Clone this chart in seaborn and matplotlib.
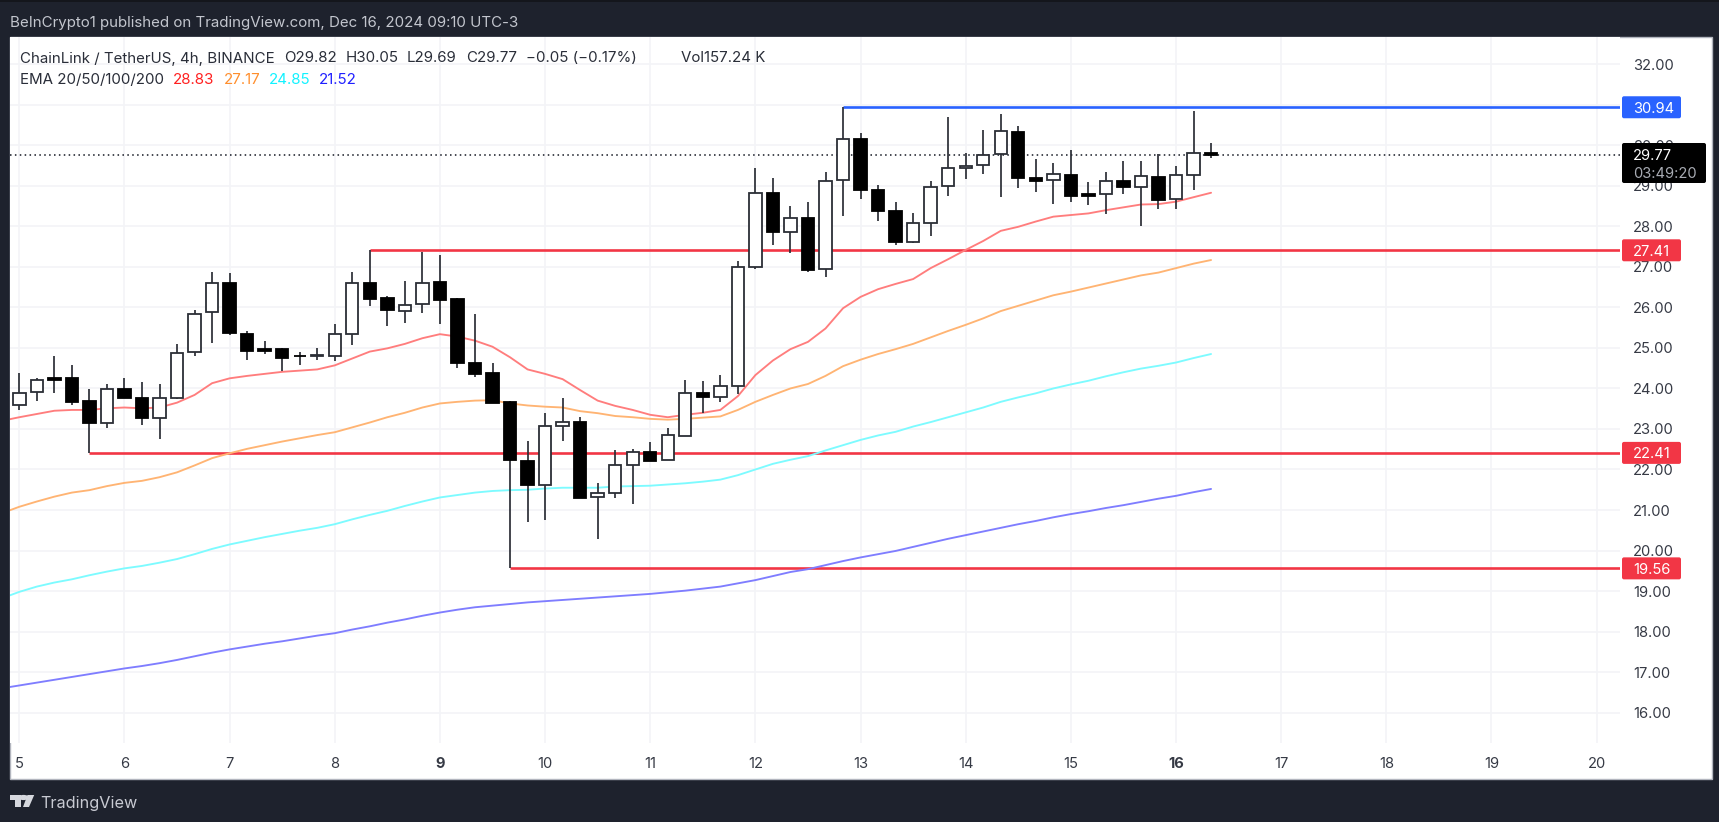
import numpy as np
import pandas as pd
import matplotlib
matplotlib.use("Agg")
import matplotlib.pyplot as plt
from matplotlib.patches import Rectangle, FancyBboxPatch, Polygon, Circle
from matplotlib.transforms import IdentityTransform
import seaborn as sns

# 4h candles, first at day 5
opens = [23.58,23.92,24.25,24.25,23.68,23.14,23.99,23.76,23.27,23.76,
         24.90,25.88,26.60,25.35,24.97,24.98,24.81,24.81,24.79,25.34,
         26.61,26.23,25.92,26.08,26.63,26.20,24.62,24.37,23.67,22.22,
         21.61,23.07,23.18,21.32,21.41,22.10,22.42,22.24,22.83,23.90,
         23.80,24.06,27.00,28.82,27.85,28.20,26.95,29.14,30.15,28.89,
         28.37,27.61,28.09,28.99,29.44,29.51,29.78,30.34,29.19,29.14,
         29.28,28.80,28.79,29.13,28.98,29.23,28.67,29.28,29.82]
highs = [24.37,24.25,24.81,24.59,23.98,24.10,24.25,24.15,24.11,25.10,
         25.94,26.88,26.84,25.42,25.16,24.99,24.91,25.01,25.58,26.87,
         27.42,26.27,26.64,27.36,27.29,26.24,25.85,24.64,23.70,22.71,
         23.40,23.77,23.29,21.66,22.47,22.50,22.67,23.02,24.22,24.19,
         24.32,27.15,29.45,29.20,28.50,28.59,29.35,30.95,30.31,29.02,
         28.59,28.32,29.11,30.69,29.82,30.38,30.77,30.48,29.66,29.56,
         29.89,29.10,29.33,29.61,29.62,29.79,29.50,30.85,30.05]
lows = [23.47,23.70,23.90,23.58,22.41,23.03,23.76,23.11,22.76,23.73,
        24.80,25.13,25.31,24.70,24.84,24.42,24.59,24.70,24.68,25.07,
        26.03,25.53,25.62,25.87,25.58,24.50,24.29,23.63,19.56,20.70,
        20.75,22.71,21.30,20.28,21.29,21.14,22.22,22.24,22.83,23.39,
        23.67,23.87,26.96,27.55,27.34,26.88,26.74,28.26,28.67,28.13,
        27.53,27.58,27.76,28.76,29.18,29.30,28.72,28.94,28.84,28.56,
        28.59,28.54,28.30,28.80,28.02,28.42,28.44,28.91,29.69]
closes = [23.90,24.21,24.21,23.67,23.14,23.99,23.76,23.28,23.76,24.88,
          25.85,26.60,25.36,24.92,24.92,24.76,24.79,24.83,25.34,26.61,
          26.22,25.94,26.07,26.61,26.18,24.62,24.36,23.65,22.23,21.61,
          23.07,23.18,21.30,21.42,22.11,22.42,22.22,22.84,23.90,23.80,
          24.06,27.00,28.82,27.85,28.20,26.92,29.13,30.15,28.89,28.37,
          27.61,28.08,28.98,29.43,29.50,29.77,30.35,29.19,29.12,29.29,
          28.75,28.76,29.12,28.98,29.24,28.66,29.26,29.81,29.77]

# EMA values, one candle earlier than the first candle through the last candle
ema20 = [23.20,
         23.29,23.37,23.45,23.47,23.47,23.51,23.53,23.51,23.53,23.65,
         23.84,24.13,24.25,24.31,24.36,24.41,24.44,24.47,24.57,24.74,
         24.91,24.99,25.10,25.24,25.34,25.28,25.18,25.03,24.77,24.47,
         24.36,24.23,23.96,23.70,23.57,23.47,23.35,23.29,23.35,23.40,
         23.47,23.81,24.33,24.69,24.97,25.15,25.48,25.98,26.26,26.45,
         26.58,26.70,26.97,27.19,27.42,27.64,27.89,27.99,28.12,28.24,
         28.28,28.32,28.40,28.47,28.54,28.55,28.61,28.72,28.83]
ema50 = [20.92,
         21.08,21.21,21.33,21.43,21.49,21.59,21.67,21.72,21.81,21.93,
         22.10,22.28,22.40,22.51,22.60,22.69,22.77,22.85,22.92,23.04,
         23.16,23.29,23.40,23.53,23.63,23.67,23.70,23.71,23.63,23.58,
         23.55,23.53,23.44,23.39,23.32,23.29,23.25,23.23,23.25,23.28,
         23.31,23.47,23.67,23.84,24.00,24.11,24.31,24.55,24.71,24.85,
         24.97,25.10,25.26,25.42,25.57,25.73,25.91,26.04,26.17,26.30,
         26.39,26.49,26.59,26.69,26.79,26.86,26.97,27.08,27.17]
ema100 = [18.82,
          18.98,19.11,19.21,19.29,19.39,19.48,19.56,19.62,19.70,19.79,
          19.91,20.04,20.15,20.24,20.33,20.41,20.49,20.56,20.65,20.77,
          20.88,20.98,21.10,21.21,21.31,21.37,21.43,21.47,21.49,21.50,
          21.53,21.55,21.55,21.55,21.58,21.59,21.60,21.63,21.66,21.70,
          21.75,21.86,22.00,22.14,22.24,22.33,22.47,22.60,22.73,22.84,
          22.93,23.06,23.17,23.29,23.41,23.53,23.67,23.78,23.88,24.00,
          24.10,24.19,24.30,24.40,24.49,24.56,24.64,24.75,24.85]
ema200 = [16.60,
          16.67,16.74,16.81,16.88,16.95,17.02,17.09,17.15,17.22,17.30,
          17.39,17.48,17.56,17.63,17.70,17.76,17.83,17.90,17.96,18.05,
          18.13,18.22,18.30,18.39,18.47,18.54,18.60,18.64,18.68,18.72,
          18.75,18.78,18.81,18.84,18.87,18.90,18.93,18.97,19.01,19.06,
          19.11,19.19,19.27,19.37,19.47,19.54,19.64,19.74,19.83,19.91,
          19.99,20.09,20.19,20.29,20.38,20.47,20.56,20.65,20.73,20.82,
          20.90,20.97,21.05,21.12,21.20,21.28,21.35,21.44,21.52]

level_values = [30.94, 27.41, 22.41, 19.56]
level_starts = [47, 20, 4, 28]          # candle where each level line begins
level_colors = ["#2962ff", "#f23645", "#f23645", "#f23645"]
last_price = 29.77
countdown = "03:49:20"
day_ticks = list(range(5, 21))
price_ticks = list(range(16, 33))

W, H = 1719, 822
DARK = "#1e222d"
INK = "#131722"

sns.set_theme(style="white")
plt.rcParams["font.family"] = ["Inter", "DejaVu Sans"]

fig = plt.figure(figsize=(W / 100, H / 100), dpi=100, facecolor=DARK)

def fx(p): return p / W
def fy(p): return 1 - p / H

# white panel, darker strip on top
fig.add_artist(Rectangle((fx(10), fy(779)), fx(1702), 742 / H, transform=fig.transFigure,
                         facecolor="white", edgecolor="#b2b5be", lw=1, zorder=-5))
fig.add_artist(Rectangle((0, fy(2)), 1, 2 / H, transform=fig.transFigure,
                         facecolor="#14161c", edgecolor="none", zorder=-5))

ax = fig.add_axes([fx(10), fy(743), fx(1610), 706 / H])
ax.set_facecolor("white")
ax.set_xlim(4.9116, 20.222)
ax.set_ylim(15.25, 32.674)
for s in ax.spines.values():
    s.set_visible(False)

ax.set_xticks(day_ticks)
ax.set_yticks(price_ticks)
ax.set_yticklabels([f"{v:.2f}" for v in price_ticks])
ax.yaxis.tick_right()
ax.tick_params(axis="both", length=0, labelcolor="#363a45", labelsize=10.6)
ax.tick_params(axis="y", pad=9.4)
ax.tick_params(axis="x", pad=10)
for lab, d in zip(ax.get_xticklabels(), day_ticks):
    if d in (9, 16):
        lab.set_fontweight("bold")
ax.grid(True, color="#f3f4f7", lw=1.2)
ax.set_axisbelow(True)

n = len(closes)
days = 5 + np.arange(n) / 6
days_ext = 5 + np.arange(-1, n) / 6

# EMA lines
ema_df = pd.DataFrame({"day": days_ext, "EMA20": ema20, "EMA50": ema50,
                       "EMA100": ema100, "EMA200": ema200})
long_df = ema_df.melt(id_vars="day", var_name="ema", value_name="price")
sns.lineplot(data=long_df, x="day", y="price", hue="ema", estimator=None, legend=False, ax=ax,
             palette={"EMA20": "#ff7d7d", "EMA50": "#ffb473", "EMA100": "#7dfbff", "EMA200": "#7f7dff"},
             lw=1.35, zorder=2)
ax.set_xlabel("")
ax.set_ylabel("")

# level lines and dotted last price
ax.hlines(last_price, 4.9116, 20.222, color=INK, lw=1.1, linestyles=(0, (1, 2.2)), zorder=1.5)
for v, st, c in zip(level_values, level_starts, level_colors):
    ax.hlines(v, days[st], 20.222, color=c, lw=1.9, zorder=1.8)

# candles
o, h, l, c = map(np.array, (opens, highs, lows, closes))
up = c >= o
ax.vlines(days, l, h, color="#2b2e36", lw=1.25, zorder=3)
ax.bar(days[up], (c - o)[up], bottom=o[up], width=0.118, facecolor="white",
       edgecolor="#2b2e36", lw=1.3, zorder=3.2)
ax.bar(days[~up], (c - o)[~up], bottom=o[~up], width=0.118, facecolor="black",
       edgecolor="black", lw=1.3, zorder=3.2)

# pixel helper for price-axis tags
fig.canvas.draw()
def ypx(v):
    return ax.transData.transform((0, v))[1]

def tag(x0, x1, yc_disp, hgt, color):
    fig.add_artist(FancyBboxPatch((x0 + 2, yc_disp - hgt / 2 + 2), x1 - x0 - 4, hgt - 4,
                                  boxstyle="round,pad=2,rounding_size=2", transform=IdentityTransform(),
                                  facecolor=color, edgecolor="none", zorder=5))

for v, col in zip(level_values, level_colors):
    tag(1622, 1681, ypx(v), 22, col)
    fig.text(fx(1633), ypx(v) / H, f"{v:.2f}", color="white", fontsize=10.6, ha="left",
             va="center_baseline", zorder=6)

tag(1622, 1706, H - 163, 40, "black")
fig.text(fx(1633), fy(154.5), f"{last_price:.2f}", color="white", fontsize=10.6, ha="left",
         va="center_baseline", zorder=6)
fig.text(fx(1633), fy(172), countdown, color="#a8abb3", fontsize=10.6, ha="left",
         va="center_baseline", zorder=6)

# header
fig.text(fx(10), fy(22), "BeInCrypto1 published on TradingView.com, Dec 16, 2024 09:10 UTC-3",
         color="#c3c6ce", fontsize=10.85, ha="left", va="center_baseline")

# legend lines
row1 = [(20, "ChainLink / TetherUS, 4h, BINANCE"), (284, "O29.82"), (345.5, "H30.05"), (407, "L29.69"),
        (466, "C29.77"), (526, "\u22120.05 (\u22120.17%)"), (681, "Vol157.24 K")]
for x, t in row1:
    fig.text(fx(x), fy(57), t, color="#2a2e39", fontsize=10.85, ha="left", va="center_baseline")
row2 = [(20, "EMA 20/50/100/200", "#2a2e39"), (173, "28.83", "#ff2020"), (223.5, "27.17", "#ff8f2e"),
        (268.7, "24.85", "#12f2ff"), (318.8, "21.52", "#2020ff")]
for x, t, col in row2:
    fig.text(fx(x), fy(78), t, color=col, fontsize=10.85, ha="left", va="center_baseline")

# footer logo and name
LOGO = "#d6d8de"
def P(x, y):
    return (fx(x), fy(y))
fig.add_artist(Polygon([P(10, 795), P(20.5, 795), P(20.5, 807), P(15, 807), P(15, 800), P(10, 800)],
                       closed=True, transform=fig.transFigure, facecolor=LOGO, edgecolor="none"))
fig.add_artist(Circle(P(23.5, 797.5), 2.6 / H, transform=fig.transFigure, facecolor=LOGO, edgecolor="none"))
fig.add_artist(Polygon([P(27.5, 795), P(34.2, 795), P(29, 807), P(23, 807)],
                       closed=True, transform=fig.transFigure, facecolor=LOGO, edgecolor="none"))
fig.text(fx(40), fy(802), "TradingView", color="#c8cad2", fontsize=11.7, ha="left", va="center_baseline")

fig.savefig("out.png", dpi=100, facecolor=DARK)
